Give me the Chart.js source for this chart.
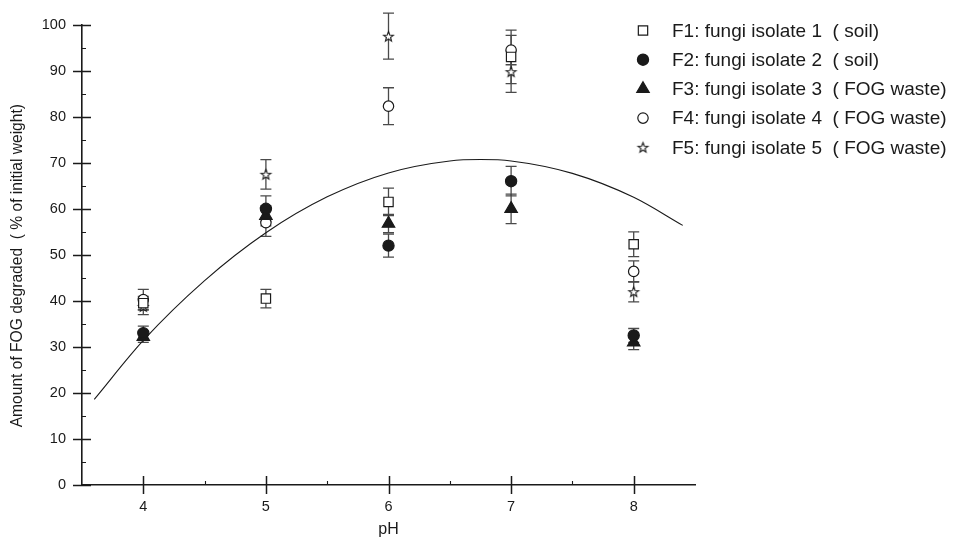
<!DOCTYPE html>
<html>
<head>
<meta charset="utf-8">
<script src="https://cdn.jsdelivr.net/npm/chart.js@4.4.1/dist/chart.umd.min.js"></script>
<style>
  html, body { margin: 0; padding: 0; background: #ffffff; }
  canvas { display: block; }
</style>
</head>
<body>
<canvas id="chart" width="953" height="539"></canvas>
<script>
// pH levels tested
const phLevels = [4, 5, 6, 7, 8];

// Series names
const seriesNames = [
  'F1: fungi isolate 1  ( soil)',
  'F2: fungi isolate 2  ( soil)',
  'F3: fungi isolate 3  ( FOG waste)',
  'F4: fungi isolate 4  ( FOG waste)',
  'F5: fungi isolate 5  ( FOG waste)'
];

// FOG degraded (% of initial weight) and standard deviations
const f1Mean = [39.5, 40.5, 61.5, 93.0, 52.3];
const f1Err  = [1.5, 2.0, 3.0, 5.8, 2.7];
const f2Mean = [33.0, 60.0, 52.0, 66.0, 32.5];
const f2Err  = [1.5, 2.8, 2.5, 3.2, 1.5];
const f3Mean = [32.2, 58.5, 56.8, 60.0, 31.0];
const f3Err  = [1.2, 2.2, 2.0, 3.2, 1.6];
const f4Mean = [40.3, 57.0, 82.3, 94.5, 46.4];
const f4Err  = [2.2, 3.0, 4.0, 3.2, 2.3];
const f5Mean = [38.8, 67.5, 97.5, 89.8, 42.0];
const f5Err  = [1.8, 3.2, 5.0, 4.5, 2.2];

// Fitted trend curve
const fitPH       = [3.6, 4.0, 4.5, 5.0, 5.5, 6.0, 6.5, 6.75, 7.0, 7.5, 8.0, 8.4];
const fitDegraded = [18.6, 31.4, 44.4, 54.8, 62.6, 67.8, 70.4, 70.7, 70.4, 67.7, 62.5, 56.4];

// Axis ticks
const xTickValues  = [4, 5, 6, 7, 8];
const xMinorTicks  = [4.5, 5.5, 6.5, 7.5];
const yTickValues  = [0, 10, 20, 30, 40, 50, 60, 70, 80, 90, 100];
const yMinorTicks  = [5, 15, 25, 35, 45, 55, 65, 75, 85, 95];

const INK = '#1a1a1a';
const FONT = '"Liberation Sans", Arial, Helvetica, sans-serif';

function starMarker(r) {
  const size = Math.ceil(r * 2 + 4);
  const c = document.createElement('canvas');
  c.width = size; c.height = size;
  const g = c.getContext('2d');
  const cx = size / 2, cy = size / 2 + 0.5;
  g.beginPath();
  for (let i = 0; i < 10; i++) {
    const rr = i % 2 ? r * 0.42 : r;
    const a = -Math.PI / 2 + i * Math.PI / 5;
    g.lineTo(cx + rr * Math.cos(a), cy + rr * Math.sin(a));
  }
  g.closePath();
  g.fillStyle = '#ffffff';
  g.fill();
  g.lineWidth = 1.1;
  g.strokeStyle = INK;
  g.stroke();
  return c;
}

const star = starMarker(5.2);

function points(means) {
  return phLevels.map((ph, i) => ({ x: ph, y: means[i] }));
}

function series(i, means, errs, style) {
  return Object.assign({
    type: 'scatter',
    label: seriesNames[i],
    data: points(means),
    errors: errs,
    inLegend: true,
    pointBorderColor: INK,
    pointBorderWidth: 1.2,
    showLine: false
  }, style);
}

const datasets = [
  series(0, f1Mean, f1Err, { pointStyle: 'rect', pointRadius: 6.6, pointBackgroundColor: '#ffffff' }),
  series(1, f2Mean, f2Err, { pointStyle: 'circle', pointRadius: 5.6, pointBackgroundColor: INK }),
  series(2, f3Mean, f3Err, { pointStyle: 'triangle', pointRadius: 7.2, pointBackgroundColor: INK }),
  series(3, f4Mean, f4Err, { pointStyle: 'circle', pointRadius: 5.2, pointBackgroundColor: '#ffffff' }),
  series(4, f5Mean, f5Err, { pointStyle: star, pointRadius: 5.5, pointBackgroundColor: '#ffffff' }),
  {
    type: 'line',
    label: 'fit',
    data: fitPH.map((ph, i) => ({ x: ph, y: fitDegraded[i] })),
    borderColor: INK,
    borderWidth: 1.1,
    pointRadius: 0,
    fill: false,
    cubicInterpolationMode: 'monotone'
  }
];

// Vertical error bars with caps, under the markers
const errorBars = {
  id: 'errorBars',
  beforeDatasetsDraw(chart) {
    const { ctx, scales: { x, y } } = chart;
    ctx.save();
    ctx.strokeStyle = '#4a4a4a';
    ctx.lineWidth = 1.3;
    chart.data.datasets.forEach((ds) => {
      if (!ds.errors) return;
      ds.data.forEach((p, j) => {
        const e = ds.errors[j];
        const px = x.getPixelForValue(p.x);
        const yt = y.getPixelForValue(p.y + e);
        const yb = y.getPixelForValue(p.y - e);
        ctx.beginPath();
        ctx.moveTo(px, yt); ctx.lineTo(px, yb);
        ctx.moveTo(px - 5.5, yt); ctx.lineTo(px + 5.5, yt);
        ctx.moveTo(px - 5.5, yb); ctx.lineTo(px + 5.5, yb);
        ctx.stroke();
      });
    });
    ctx.restore();
  }
};

// Major ticks crossing the axis lines, short minor ticks inside
const axisTicks = {
  id: 'axisTicks',
  afterDraw(chart) {
    const { ctx, scales: { x, y }, chartArea: a } = chart;
    ctx.save();
    ctx.strokeStyle = INK;
    ctx.lineWidth = 1.5;
    ctx.beginPath();
    yTickValues.forEach(v => {
      const py = Math.round(y.getPixelForValue(v)) + 0.5;
      ctx.moveTo(a.left - 9, py); ctx.lineTo(a.left + 9, py);
    });
    xTickValues.forEach(v => {
      const px = Math.round(x.getPixelForValue(v)) + 0.5;
      ctx.moveTo(px, a.bottom - 9); ctx.lineTo(px, a.bottom + 9);
    });
    ctx.stroke();
    ctx.lineWidth = 1.1;
    ctx.beginPath();
    yMinorTicks.forEach(v => {
      const py = Math.round(y.getPixelForValue(v)) + 0.5;
      ctx.moveTo(a.left, py); ctx.lineTo(a.left + 4, py);
    });
    xMinorTicks.forEach(v => {
      const px = Math.round(x.getPixelForValue(v)) + 0.5;
      ctx.moveTo(px, a.bottom); ctx.lineTo(px, a.bottom - 4);
    });
    ctx.stroke();
    ctx.restore();
  }
};

// Key at the upper right: marker followed by series name
const sideLegend = {
  id: 'sideLegend',
  afterDraw(chart) {
    const ctx = chart.ctx;
    const markerX = 643, textX = 672, firstY = 30.5, rowStep = 29.2;
    ctx.save();
    ctx.font = '19px ' + FONT;
    ctx.textBaseline = 'middle';
    ctx.textAlign = 'left';
    let row = 0;
    chart.data.datasets.forEach((ds) => {
      if (!ds.inLegend) return;
      const yy = firstY + row * rowStep;
      ctx.fillStyle = ds.pointBackgroundColor;
      ctx.strokeStyle = ds.pointBorderColor;
      ctx.lineWidth = ds.pointBorderWidth;
      Chart.helpers.drawPoint(ctx, {
        pointStyle: ds.pointStyle,
        radius: ds.pointRadius,
        borderWidth: ds.pointBorderWidth,
        rotation: 0
      }, markerX, yy);
      ctx.fillStyle = INK;
      ctx.fillText(ds.label, textX, yy + 1);
      row++;
    });
    ctx.restore();
  }
};

Chart.defaults.font.family = FONT;
Chart.defaults.color = INK;

new Chart(document.getElementById('chart'), {
  type: 'scatter',
  data: { datasets },
  plugins: [errorBars, axisTicks, sideLegend],
  options: {
    responsive: false,
    animation: false,
    devicePixelRatio: 1,
    layout: { padding: { top: 24, right: 258, bottom: 0, left: 0 } },
    plugins: {
      legend: { display: false },
      tooltip: { enabled: false }
    },
    scales: {
      x: {
        type: 'linear',
        min: 3.5,
        max: 8.5,
        afterBuildTicks(scale) { scale.ticks = xTickValues.map(v => ({ value: v })); },
        afterFit(scale) { scale.height = 54; },
        grid: { display: false, drawTicks: false },
        border: { display: true, color: INK, width: 1.6 },
        ticks: { padding: 13, font: { size: 14.5 }, color: INK },
        title: { display: true, text: 'pH', font: { size: 16 }, color: INK, padding: { top: 0, bottom: 0 } }
      },
      y: {
        type: 'linear',
        min: 0,
        max: 100,
        afterBuildTicks(scale) { scale.ticks = yTickValues.map(v => ({ value: v })); },
        afterFit(scale) { scale.width = 82; },
        grid: { display: false, drawTicks: false },
        border: { display: true, color: INK, width: 1.6 },
        ticks: { padding: 16, font: { size: 14.5 }, color: INK },
        title: {
          display: true,
          text: 'Amount of FOG degraded  ( % of initial weight)     ',
          font: { size: 15.6 },
          color: INK,
          padding: { top: 8, bottom: 0 }
        }
      }
    }
  }
});
</script>
</body>
</html>
